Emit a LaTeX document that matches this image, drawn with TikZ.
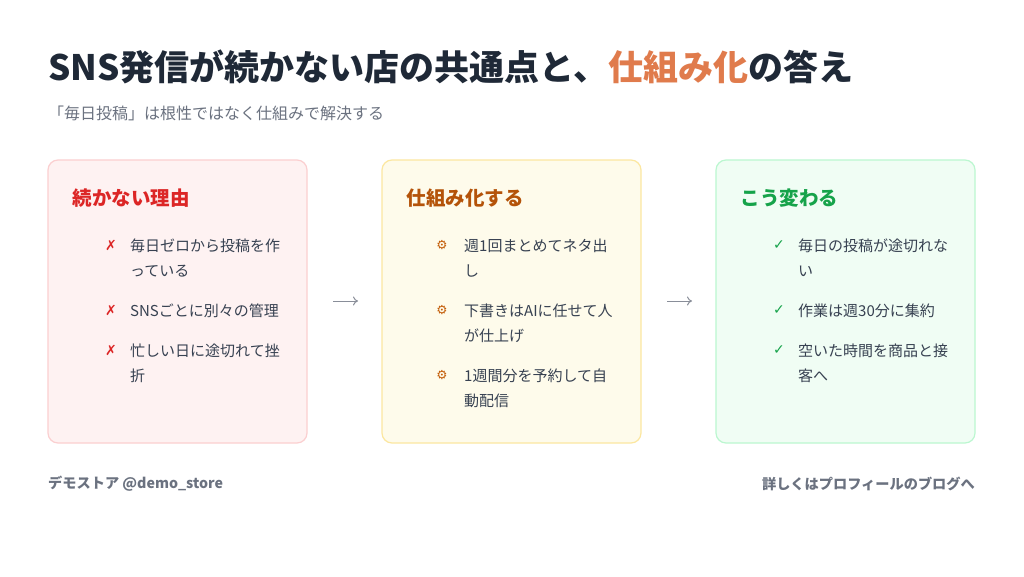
\documentclass[tikz,border=0pt]{standalone}
\usetikzlibrary{arrows.meta}
\usepackage{fontspec}
\setmainfont{Noto Sans CJK JP}
\newfontfamily\sym{DejaVu Sans}
\definecolor{ink}{HTML}{1F2937}
\definecolor{txt}{HTML}{374151}
\definecolor{mut}{HTML}{6B7280}
\definecolor{acc}{HTML}{E07B4C}
\definecolor{rF}{HTML}{FEF2F2}\definecolor{rB}{HTML}{FBCFD0}\definecolor{rH}{HTML}{DC2626}
\definecolor{yF}{HTML}{FEFBEB}\definecolor{yB}{HTML}{FCE7A0}\definecolor{yH}{HTML}{B45309}
\definecolor{gF}{HTML}{F0FDF4}\definecolor{gB}{HTML}{BBF7D0}\definecolor{gH}{HTML}{16A34A}
\begin{document}
\begin{tikzpicture}[x=1pt,y=-1pt,
 card/.style={draw,line width=1.2pt,rounded corners=10pt},
 head/.style={anchor=west,font=\fontsize{19.5}{22}\selectfont\bfseries},
 item/.style={anchor=north west,align=left,text=txt,inner sep=0,font=\fontsize{15}{25}\selectfont},
 mk/.style={anchor=center,inner sep=0,font=\sym\fontsize{14}{16}\selectfont\bfseries},
 arr/.style={-{To[length=5pt,width=9pt]},draw=mut!80,line width=1pt}]
\useasboundingbox[fill=white] (0,0) rectangle (1024,576);
\node[anchor=west,inner sep=0,text=ink,font=\fontsize{35}{38}\selectfont\bfseries] (title) at (48,67) {SNS発信が続かない店の共通点と、\textcolor{acc}{仕組み化}の答え};
\node[anchor=west,inner sep=0,text=mut,font=\fontsize{16}{18}\selectfont] (sub) at (48,113) {「毎日投稿」は根性ではなく仕組みで解決する};
\draw[card,draw=rB,fill=rF] (48,160) rectangle (307,443);
\draw[card,draw=yB,fill=yF] (382,160) rectangle (641,443);
\draw[card,draw=gB,fill=gF] (716,160) rectangle (975,443);
\node[head,text=rH] (h1) at (69,198) {続かない理由};
\node[head,text=yH] (h2) at (403,198) {仕組み化する};
\node[head,text=gH] (h3) at (737,198) {こう変わる};
\foreach \y/\t [count=\i] in {245/{毎日ゼロから投稿を作\\っている},310/{SNSごとに別々の管理},350/{忙しい日に途切れて挫\\折}}{
 \node[mk,text=rH] (m1\i) at (111,\y) {✗};
 \node[item] (t1\i) at (130,\y-6.5) {\t};}
\foreach \y/\t [count=\i] in {245/{週1回まとめてネタ出\\し},310/{下書きはAIに任せて人\\が仕上げ},375/{1週間分を予約して自\\動配信}}{
 \node[mk,text=yH!80!orange,font=\sym\fontsize{12.5}{14}\selectfont] (m2\i) at (442,\y) {⚙};
 \node[item] (t2\i) at (464,\y-6.5) {\t};}
\foreach \y/\t [count=\i] in {245/{毎日の投稿が途切れな\\い},310/{作業は週30分に集約},350/{空いた時間を商品と接\\客へ}}{
 \node[mk,text=gH] (m3\i) at (779,\y) {✓};
 \node[item] (t3\i) at (798,\y-6.5) {\t};}
\coordinate (a1s) at (333,301); \coordinate (a1e) at (358,301);
\coordinate (a2s) at (667,301); \coordinate (a2e) at (692,301);
\draw[arr] (a1s) -- (a1e);
\draw[arr] (a2s) -- (a2e);
\node[anchor=west,inner sep=0,text=mut,font=\fontsize{14.2}{16}\selectfont\bfseries] (f1) at (48,484) {デモストア @demo\_store};
\node[anchor=east,inner sep=0,text=mut,font=\fontsize{14.2}{16}\selectfont\bfseries] (f2) at (975,484) {詳しくはプロフィールのブログへ};
\end{tikzpicture}
\end{document}
